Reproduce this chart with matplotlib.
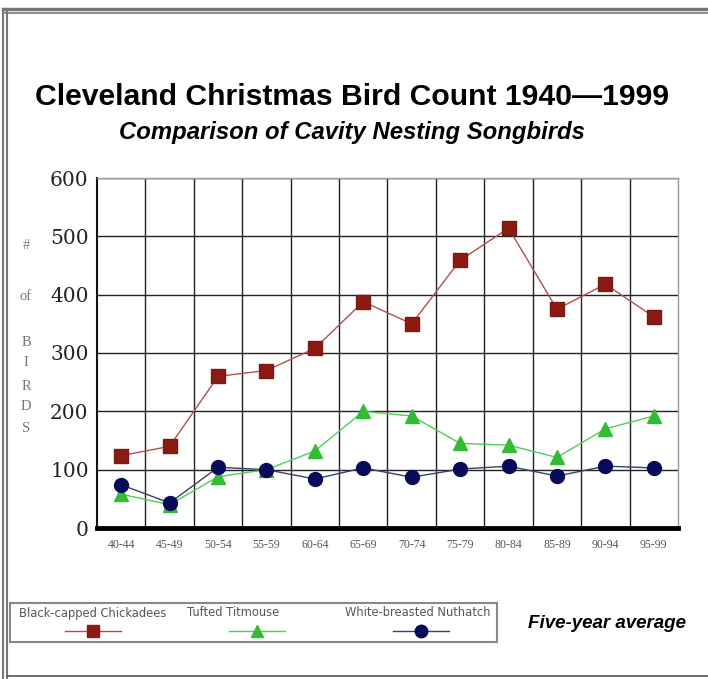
import matplotlib.pyplot as plt
from matplotlib.patches import Rectangle
from matplotlib.lines import Line2D

# Data (five-year averages)
periods = ["40-44", "45-49", "50-54", "55-59", "60-64", "65-69",
           "70-74", "75-79", "80-84", "85-89", "90-94", "95-99"]
chickadee = [124, 140, 260, 270, 308, 388, 350, 459, 514, 375, 418, 362]
titmouse = [58, 40, 88, 100, 132, 200, 192, 145, 142, 121, 170, 192]
nuthatch = [74, 43, 104, 100, 84, 103, 87, 101, 106, 89, 106, 103]
y_ticks = [0, 100, 200, 300, 400, 500, 600]
ylabel_chars = ["#", "of", "B", "I", "R", "D", "S"]

W, H = 708, 679
fig = plt.figure(figsize=(W / 100, H / 100), dpi=100)
fig.patch.set_facecolor("white")

# frame lines around the picture
def fx(px):
    return px / W

def fy(py):
    return 1 - py / H

for y, lw in [(9, 2.5), (13, 1.2)]:
    fig.add_artist(Line2D([fx(3), 1], [fy(y), fy(y)], color="#777777", lw=lw))
for x, lw in [(3, 1.5), (7, 1.5)]:
    fig.add_artist(Line2D([fx(x), fx(x)], [fy(9), 0], color="#777777", lw=lw))
fig.add_artist(Line2D([fx(7), 1], [fy(676), fy(676)], color="#555555", lw=1.2))

# titles
fig.text(fx(352), fy(97), "Cleveland Christmas Bird Count 1940\u20141999",
         ha="center", va="center", fontsize=21.7, fontweight="bold",
         family="Liberation Sans")
fig.text(fx(352), fy(133), "Comparison of Cavity Nesting Songbirds",
         ha="center", va="center", fontsize=17.2, fontweight="bold",
         style="italic", family="Liberation Sans")

ax = fig.add_axes([97 / W, 1 - 528 / H, (678 - 97) / W, (528 - 178) / H])
x = list(range(len(periods)))

ax.plot(x, chickadee, color="#b05050", lw=1, marker="s", ms=10,
        mfc="#8b1a12", mec="#7a1a12", label="Black-capped Chickadees", zorder=3)
ax.plot(x, titmouse, color="#55cc55", lw=1, marker="^", ms=10,
        mfc="#33bb33", mec="#33bb33", label="Tufted Titmouse", zorder=3)
ax.plot(x, nuthatch, color="#334466", lw=1, marker="o", ms=10,
        mfc="#0a0a5a", mec="#0a0a5a", label="White-breasted Nuthatch", zorder=3)

ax.set_xlim(-0.5, len(periods) - 0.5)
ax.set_ylim(0, 600)
ax.set_yticks(y_ticks)
ax.set_yticklabels([str(v) for v in y_ticks], family="DejaVu Serif",
                   fontsize=14.5, color="#222222")
ax.set_xticks(x)
ax.set_xticklabels(periods, family="Liberation Serif", fontsize=8.5,
                   color="#555555")
ax.tick_params(length=0, pad=8)
ax.tick_params(axis="y", pad=6)

# grid between categories and at every hundred
for b in range(1, len(periods)):
    ax.axvline(b - 0.5, color="#222222", lw=1, zorder=1)
for v in y_ticks[1:]:
    ax.axhline(v, color="#222222", lw=1, zorder=1)

for s in ["top", "right"]:
    ax.spines[s].set_color("#999999")
    ax.spines[s].set_linewidth(1)
ax.spines["left"].set_color("#111111")
ax.spines["left"].set_linewidth(1.5)
ax.spines["bottom"].set_color("#000000")
ax.spines["bottom"].set_linewidth(3.5)

# stacked y label
ylab_pos = [245, 297, 343, 363, 387, 407, 428]
for ch, py in zip(ylabel_chars, ylab_pos):
    fig.text(fx(26), fy(py), ch, ha="center", va="center", fontsize=10.5,
             color="#777777", family="Liberation Serif")

# legend box drawn by hand
fig.add_artist(Rectangle((fx(10), fy(642)), fx(497) - fx(10), fy(603) - fy(642),
                         fill=False, ec="#888888", lw=1.5))
legend_items = [("Black-capped Chickadees", 93, "s", "#8b1a12", "#b05050"),
                ("Tufted Titmouse", 233, "^", "#33bb33", "#55cc55"),
                ("White-breasted Nuthatch", 418, "o", "#0a0a5a", "#334466")]
marker_x = [93, 257, 421]
for (label, cx, mk, fc, lc), mx in zip(legend_items, marker_x):
    fig.text(fx(cx), fy(613), label, ha="center", va="center", fontsize=8.3,
             color="#555555", family="DejaVu Sans")
    fig.add_artist(Line2D([fx(mx - 28), fx(mx + 28)], [fy(631), fy(631)],
                          color=lc, lw=1))
    fig.add_artist(Line2D([fx(mx)], [fy(631)], marker=mk, ms=9, mfc=fc,
                          mec=fc, lw=0))

fig.text(fx(607), fy(624), "Five-year average", ha="center", va="center",
         fontsize=13.5, fontweight="bold", style="italic", family="Liberation Sans")

fig.savefig("out.png", dpi=100)
